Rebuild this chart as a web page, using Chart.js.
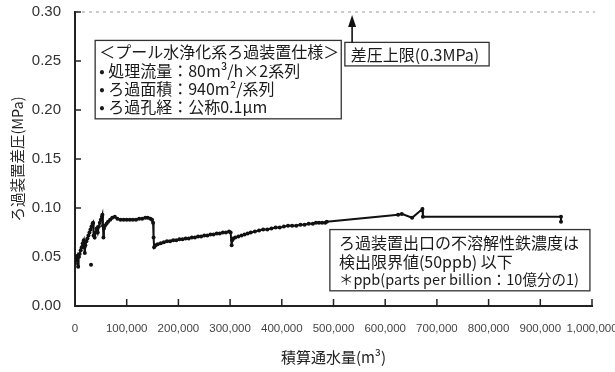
<!DOCTYPE html>
<html>
<head>
<meta charset="utf-8">
<script src="https://cdn.jsdelivr.net/npm/chart.js@4.4.1/dist/chart.umd.min.js"></script>
<style>
  html, body { margin: 0; padding: 0; background: #fff; }
</style>
</head>
<body>
<canvas id="myChart" width="615" height="372"></canvas>
<script>
// DATOS (積算通水量 m3 / ろ過装置差圧 MPa)
const volumen = [
  0, 2000, 4000, 6000, 7000, 9000, 11000, 13000, 15000, 17000, 18000, 19000, 20000,
  22000, 24000, 26000, 28000, 30000, 32000, 34000, 35000, 36000, 38000, 40000, 42000,
  44000, 46000, 48000, 50000, 52000, 53000, 54000, 55000, 56000, 58000, 61000, 64000,
  68000, 72000, 77000, 82000, 88000, 94000, 100000, 106000, 112000, 118000, 124000,
  130000, 136000, 141000, 146000, 149000, 151000, 152000, 153000, 156000, 160000,
  166000, 172000, 178000, 184000, 190000, 196000, 202000, 208000, 214000, 220000,
  226000, 232000, 238000, 244000, 250000, 256000, 262000, 268000, 274000, 280000,
  286000, 292000, 298000, 301000, 303000, 304000, 306000, 310000, 316000, 322000,
  328000, 334000, 340000, 348000, 356000, 364000, 372000, 380000, 388000, 396000,
  404000, 412000, 420000, 428000, 436000, 444000, 452000, 460000, 466000, 472000,
  478000, 484000, 487000, 625000, 632000, 652000, 672000, 673000, 940000, 940000
];
const presion = [
  0.043, 0.048, 0.051, 0.040, 0.050, 0.053, 0.057, 0.060, 0.064, 0.067, 0.060, 0.054, 0.062,
  0.066, 0.069, 0.072, 0.075, 0.078, 0.081, 0.084, 0.085, 0.072, 0.070, 0.075, 0.079,
  0.075, 0.081, 0.085, 0.088, 0.091, 0.093, 0.082, 0.070, 0.079, 0.082, 0.084, 0.086,
  0.088, 0.090, 0.091, 0.089, 0.088, 0.088, 0.088, 0.088, 0.088, 0.088, 0.089,
  0.089, 0.090, 0.090, 0.089, 0.088, 0.085, 0.070, 0.060, 0.062, 0.063,
  0.064, 0.065, 0.066, 0.066, 0.067, 0.067, 0.068, 0.068, 0.069, 0.069,
  0.070, 0.070, 0.071, 0.071, 0.072, 0.072, 0.073, 0.073, 0.074, 0.074,
  0.075, 0.075, 0.076, 0.075, 0.062, 0.067, 0.069, 0.070, 0.071, 0.072,
  0.073, 0.074, 0.075, 0.076, 0.077, 0.078, 0.078, 0.079, 0.080, 0.080,
  0.081, 0.082, 0.082, 0.082, 0.083, 0.083, 0.084, 0.084, 0.085, 0.085,
  0.085, 0.085, 0.086, 0.093, 0.094, 0.090, 0.099, 0.091, 0.091, 0.086
];
// puntos sueltos
const sueltoX = [31000];
const sueltoY = [0.042];

const ejeXMax = 1000000;
const ejeYMax = 0.30;

const cajaSpec = [
  '＜プール水浄化系ろ過装置仕様＞',
  '• 処理流量：80m³/h×2系列',
  '• ろ過面積：940m²/系列',
  '• ろ過孔経：公称0.1μm'
];
const cajaLimite = '差圧上限(0.3MPa)';
const cajaNota = [
  'ろ過装置出口の不溶解性鉄濃度は',
  '検出限界値(50ppb) 以下',
  '＊ppb(parts per billion：10億分の1)'
];

const fuenteJP = '"Noto Sans CJK JP", "Noto Sans", sans-serif';
const fuenteNum = '"Liberation Sans", Arial, sans-serif';

// GRAFICA

const toPoints = (xs, ys) => xs.map((x, i) => ({ x, y: ys[i] }));

// dibuja ticks hacia dentro, linea de limite y cuadros de texto
const extras = {
  id: 'extras',
  beforeDatasetsDraw(chart) {
    const { ctx, chartArea, scales: { x, y } } = chart;
    ctx.save();
    // linea discontinua 0.30
    ctx.strokeStyle = '#9a9a9a';
    ctx.lineWidth = 1;
    ctx.setLineDash([3, 4]);
    ctx.beginPath();
    ctx.moveTo(chartArea.left, y.getPixelForValue(ejeYMax));
    ctx.lineTo(chartArea.right + 3, y.getPixelForValue(ejeYMax));
    ctx.stroke();
    ctx.setLineDash([]);
    // ticks
    ctx.strokeStyle = '#222';
    ctx.lineWidth = 1.5;
    x.ticks.forEach(t => {
      const px = x.getPixelForValue(t.value);
      ctx.beginPath();
      ctx.moveTo(px, chartArea.bottom);
      ctx.lineTo(px, chartArea.bottom - 7);
      ctx.stroke();
    });
    y.ticks.forEach(t => {
      const py = y.getPixelForValue(t.value);
      ctx.beginPath();
      ctx.moveTo(chartArea.left, py);
      ctx.lineTo(chartArea.left + 6, py);
      ctx.stroke();
    });
    ctx.restore();
  },
  afterDraw(chart) {
    const { ctx, scales: { x, y } } = chart;
    const caja = (x0, y0, x1, y1) => {
      const l = x.getPixelForValue(x0), r = x.getPixelForValue(x1);
      const t = y.getPixelForValue(y0), b = y.getPixelForValue(y1);
      ctx.fillStyle = '#fff';
      ctx.fillRect(l, t, r - l, b - t);
      ctx.strokeStyle = '#333';
      ctx.lineWidth = 1.3;
      ctx.strokeRect(l, t, r - l, b - t);
      return { l, t, r, b };
    };
    ctx.save();
    ctx.textBaseline = 'middle';

    // cuadro de especificaciones
    const c1 = caja(39000, 0.271, 515000, 0.191);
    ctx.fillStyle = '#1a1a1a';
    ctx.font = '16px ' + fuenteJP;
    cajaSpec.forEach((s, i) => ctx.fillText(s, c1.l + 4, c1.t + 12 + i * 18.3));

    // limite de presion con flecha
    const c2 = caja(522000, 0.269, 801000, 0.245);
    ctx.fillStyle = '#1a1a1a';
    ctx.font = '16px ' + fuenteJP;
    ctx.fillText(cajaLimite, c2.l + 6, (c2.t + c2.b) / 2 + 1);
    const ax = x.getPixelForValue(536000);
    const top = y.getPixelForValue(ejeYMax) + 3;
    ctx.strokeStyle = '#111';
    ctx.fillStyle = '#111';
    ctx.lineWidth = 1.6;
    ctx.beginPath();
    ctx.moveTo(ax, c2.t);
    ctx.lineTo(ax, top + 8);
    ctx.stroke();
    ctx.beginPath();
    ctx.moveTo(ax, top);
    ctx.lineTo(ax - 4, top + 12);
    ctx.lineTo(ax + 4, top + 12);
    ctx.closePath();
    ctx.fill();

    // nota
    const c3 = caja(493000, 0.078, 996000, 0.0155);
    ctx.fillStyle = '#1a1a1a';
    ctx.font = '16px ' + fuenteJP;
    ctx.fillText(cajaNota[0], c3.l + 9, c3.t + 13);
    ctx.fillText(cajaNota[1], c3.l + 9, c3.t + 32);
    ctx.font = '14.5px ' + fuenteJP;
    ctx.fillText(cajaNota[2], c3.l + 9, c3.t + 50);
    ctx.restore();
  }
};

const myChart = new Chart(document.getElementById('myChart'), {
  type: 'scatter',
  data: {
    datasets: [{
      data: toPoints(volumen, presion),
      showLine: true,
      borderColor: '#111',
      backgroundColor: '#111',
      borderWidth: 2,
      pointRadius: 2,
      pointBorderWidth: 0
    }, {
      data: toPoints(sueltoX, sueltoY),
      showLine: false,
      backgroundColor: '#111',
      pointRadius: 2,
      pointBorderWidth: 0
    }]
  },
  options: {
    responsive: false,
    animation: false,
    layout: { padding: { left: 0, right: 23, top: 12, bottom: 0 } },
    plugins: { legend: { display: false }, tooltip: { enabled: false } },
    scales: {
      x: {
        type: 'linear',
        min: 0,
        max: ejeXMax,
        grid: { display: false },
        border: { display: true, color: '#222', width: 2 },
        ticks: {
          stepSize: 100000,
          padding: 8,
          maxRotation: 0,
          autoSkip: false,
          color: '#444',
          font: { family: fuenteNum, size: 11.5 },
          callback: v => v.toLocaleString('en-US')
        },
        title: {
          display: true,
          text: '積算通水量(m³)',
          color: '#222',
          font: { family: fuenteJP, size: 15 },
          padding: { top: 0, bottom: 6 }
        },
        afterFit(scale) {
          scale.height = 66;
          scale.paddingLeft = 0;
          scale.paddingRight = 0;
        }
      },
      y: {
        min: 0,
        max: ejeYMax,
        grid: { display: false },
        border: { display: true, color: '#222', width: 2 },
        ticks: {
          stepSize: 0.05,
          padding: 6,
          color: '#333',
          font: { family: fuenteNum, size: 15 },
          callback: v => v.toFixed(2)
        },
        title: {
          display: true,
          text: 'ろ過装置差圧(MPa)',
          color: '#222',
          font: { family: fuenteJP, size: 14.5 },
          padding: { top: 9, bottom: 0 }
        },
        afterFit(scale) {
          scale.width = 75;
          scale.paddingTop = 0;
          scale.paddingBottom = 0;
        }
      }
    }
  },
  plugins: [extras]
});
</script>
</body>
</html>
